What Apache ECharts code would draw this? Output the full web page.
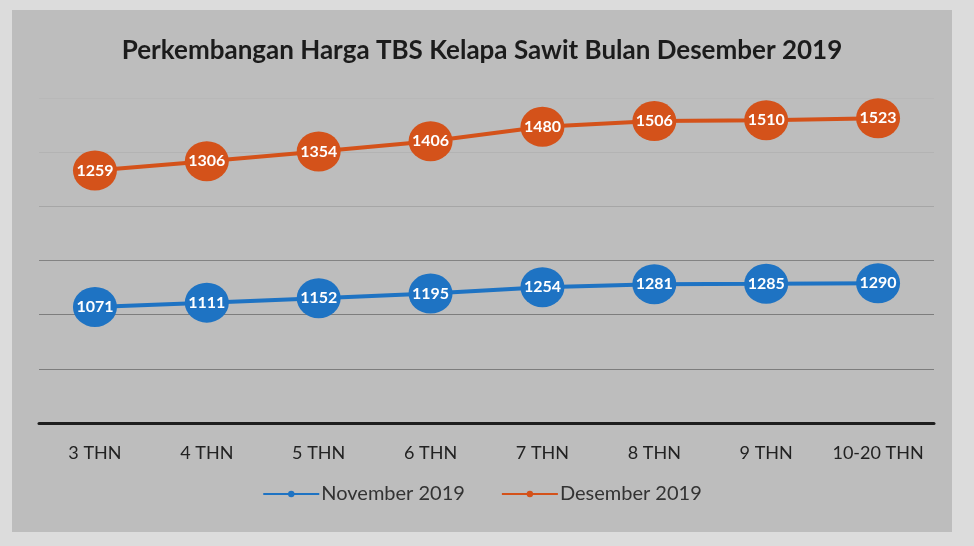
<!DOCTYPE html>
<html>
<head>
<meta charset="utf-8">
<script src="https://cdn.jsdelivr.net/npm/echarts@6/dist/echarts.min.js"></script>
<style>
  html, body { margin: 0; padding: 0; }
  #wrap { position: relative; width: 974px; height: 546px; background: #dcdcdc; overflow: hidden; }
  #chart { position: absolute; left: 12px; top: 10px; width: 940px; height: 522px; background: #bdbdbd; }
</style>
</head>
<body>
<div id="wrap"><div id="chart"></div></div>
<script>
// kategori umur tanaman
const categories = ['3 THN', '4 THN', '5 THN', '6 THN', '7 THN', '8 THN', '9 THN', '10-20 THN'];
// harga TBS (Rp/kg)
const november2019 = [1071, 1111, 1152, 1195, 1254, 1281, 1285, 1290];
const desember2019 = [1259, 1306, 1354, 1406, 1480, 1506, 1510, 1523];
const seriesNames = ['November 2019', 'Desember 2019'];

window.onload = function () {
    let chart = echarts.init(document.querySelector('#chart'));
    let labelStyle = {
        show: true,
        position: 'inside',
        color: '#ffffff',
        fontSize: 16,
        fontWeight: 'bold',
        fontFamily: 'Lato'
    };
    let option = {
        animation: false,
        title: {
            text: 'Perkembangan Harga TBS Kelapa Sawit Bulan Desember 2019',
            left: 'center',
            top: 23,
            textStyle: { fontFamily: 'Lato', fontSize: 26, fontWeight: 'bold', color: '#1c1c1c' }
        },
        legend: {
            data: seriesNames,
            bottom: 23,
            left: 'center',
            itemWidth: 56,
            itemHeight: 8,
            itemGap: 36,
            textStyle: { fontFamily: 'Lato', fontSize: 20, color: '#333', padding: [0, 0, 0, -3] }
        },
        grid: { left: 27, right: 18, top: 88, bottom: 109 },
        xAxis: {
            type: 'category',
            data: categories,
            axisTick: { show: false },
            axisLine: { lineStyle: { color: '#1e1e1e', width: 3 } },
            axisLabel: { interval: 0, margin: 21, fontFamily: 'Lato', fontSize: 18, color: '#222' }
        },
        yAxis: {
            type: 'value',
            min: 0,
            max: 3000,
            interval: 500,
            axisLabel: { show: false },
            axisLine: { show: false },
            axisTick: { show: false },
            // garis atas samar seperti di foto
            splitLine: { lineStyle: { color: ['#7d7d7d', '#7d7d7d', '#7d7d7d', '#838383', '#a6a6a6', '#b3b3b3', '#b8b8b8'], width: 1.2 } }
        },
        series: [
            {
                name: seriesNames[0],
                type: 'line',
                stack: 'harga',
                data: november2019,
                symbol: 'circle',
                symbolSize: [44, 40],
                lineStyle: { width: 4, color: '#1e73c3' },
                itemStyle: { color: '#1e73c3' },
                label: labelStyle
            },
            {
                name: seriesNames[1],
                type: 'line',
                stack: 'harga',
                data: desember2019,
                symbol: 'circle',
                symbolSize: [44, 40],
                lineStyle: { width: 4, color: '#d4521a' },
                itemStyle: { color: '#d4521a' },
                label: labelStyle
            }
        ]
    };
    chart.setOption(option);
}
</script>
</body>
</html>
